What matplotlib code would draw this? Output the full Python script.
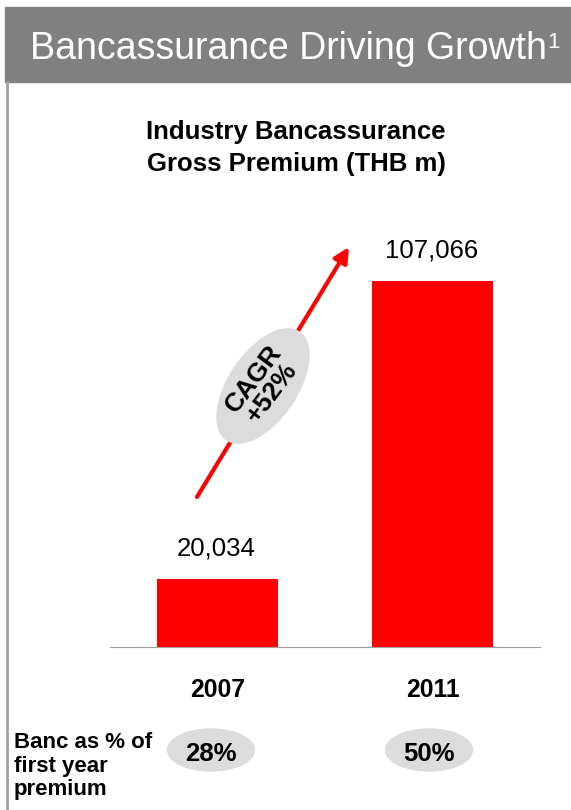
import matplotlib.pyplot as plt
from matplotlib.patches import Ellipse, Rectangle, FancyArrowPatch

plt.rcParams['font.family'] = ['Liberation Sans', 'DejaVu Sans']

years = ["2007", "2011"]
premium = [20034, 107066]
banc_share = ["28%", "50%"]
cagr_label = "CAGR\n+52%"

RED = "#ff0000"
GREY = "#808080"
OVAL = "#dcdcdc"

W, H = 571, 810
fig = plt.figure(figsize=(W / 100, H / 100), dpi=100)

# overlay in pixel units for the slide furniture
bg = fig.add_axes([0, 0, 1, 1])
bg.set_xlim(0, W)
bg.set_ylim(H, 0)
bg.axis("off")

bg.add_patch(Rectangle((5, 7), W - 5, 75, color=GREY, zorder=1))
bg.plot([6.5, 6.5], [82, H], color="#a0a0a0", lw=2, zorder=1)
bg.text(30, 59, "Bancassurance Driving Growth", color="white", fontsize=27,
        va="baseline", ha="left", zorder=2)
bg.text(547, 48, "1", color="white", fontsize=16, va="baseline", ha="left", zorder=2)

bg.text(296, 139, "Industry Bancassurance", fontsize=18.5, fontweight="bold",
        ha="center", va="baseline")
bg.text(296, 171, "Gross Premium (THB m)", fontsize=18.5, fontweight="bold",
        ha="center", va="baseline")

# bar chart
x0, x1 = 110, 540
base, ymax = 647, 130000
top_px = 366 * ymax / premium[1]
ax = fig.add_axes([x0 / W, 1 - base / H, (x1 - x0) / W, top_px / H])
pos = range(len(years))
ax.bar(pos, premium, width=0.56, color=RED, zorder=2)
ax.set_xlim(-0.5, 1.5)
ax.set_ylim(0, ymax)
for s in ["top", "left", "right"]:
    ax.spines[s].set_visible(False)
ax.spines["bottom"].set_color("#a0a0a0")
ax.set_yticks([])
ax.set_xticks(list(pos))
ax.set_xticklabels(years, fontsize=17.8, fontweight="bold")
ax.tick_params(axis="x", length=0, pad=22.3)
ax.patch.set_alpha(0)
for p, v in zip(pos, premium):
    ax.annotate(f"{v:,}", (p, v), xytext=(-1, 16.6), textcoords="offset points",
                ha="center", va="baseline", fontsize=18.5)

# CAGR arrow with label
arrow = FancyArrowPatch((197, 497), (349, 247),
                        arrowstyle="-|>,head_length=9,head_width=4.5",
                        color=RED, lw=3, shrinkA=0, shrinkB=0, zorder=3)
bg.add_artist(arrow)
bg.add_patch(Ellipse((263, 386), 130, 68, angle=-56, color=OVAL, zorder=4))
bg.text(263, 386, cagr_label, rotation=53, fontsize=19, fontweight="bold",
        ha="center", va="center", rotation_mode="anchor", zorder=5,
        linespacing=0.95, multialignment="center")

# share of first-year premium
for y, line in zip([748, 772, 795], ["Banc as % of", "first year", "premium"]):
    bg.text(14, y, line, fontsize=16, fontweight="bold", ha="left", va="baseline")
for cx, s in zip([211, 429], banc_share):
    bg.add_patch(Ellipse((cx, 750), 87, 42, color=OVAL, zorder=1))
    bg.text(cx, 761, s, fontsize=18.5, fontweight="bold", ha="center",
            va="baseline", zorder=2)

fig.savefig("out.png", dpi=100)
